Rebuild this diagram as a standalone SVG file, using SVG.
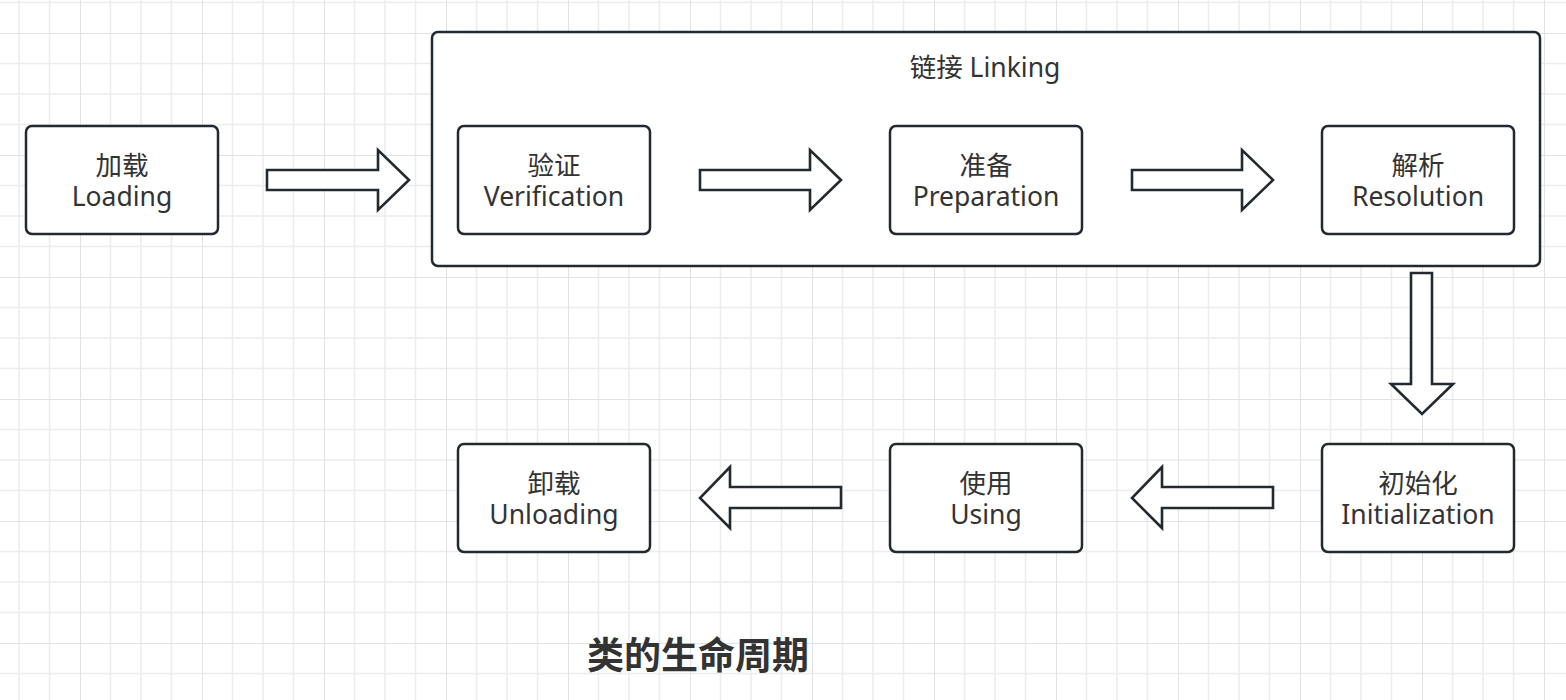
<svg xmlns="http://www.w3.org/2000/svg" width="1566" height="700" viewBox="0 0 1566 700">
<style>
.box{fill:#ffffff;stroke:#222a31;stroke-width:2.5}
.arr{fill:#ffffff;stroke:#222a31;stroke-width:2.6;stroke-linejoin:miter}
.t{font-family:"Noto Sans","Noto Sans CJK SC",sans-serif;font-size:26.5px;fill:#333333;text-anchor:middle}
.title{font-family:"Noto Sans CJK SC","Noto Sans",sans-serif;font-size:37px;font-weight:bold;fill:#333333;text-anchor:middle}
</style>
<defs>
<pattern id="grid" x="80" y="33" width="122" height="122" patternUnits="userSpaceOnUse">
<path d="M30.5 0V122M61 0V122M91.5 0V122M0 30.5H122M0 61H122M0 91.5H122" stroke="#ececec" stroke-width="1.5" fill="none"/>
<path d="M0 0V122M0 0H122" stroke="#e2e2e2" stroke-width="2" fill="none"/>
</pattern>
</defs>
<rect width="1566" height="700" fill="#ffffff"/>
<rect width="1566" height="700" fill="url(#grid)"/>
<g id="linking">
<rect class="box" x="432" y="32" width="1108" height="234" rx="6"/>
<text class="t" x="985" y="77">链接 Linking</text>
</g>
<g id="loading">
<rect class="box" x="26" y="126" width="192" height="108" rx="6"/>
<text class="t" x="122" y="175">加载<tspan x="122" dy="31">Loading</tspan></text>
</g>
<g id="verification">
<rect class="box" x="458" y="126" width="192" height="108" rx="6"/>
<text class="t" x="554" y="175">验证<tspan x="554" dy="31">Verification</tspan></text>
</g>
<g id="preparation">
<rect class="box" x="890" y="126" width="192" height="108" rx="6"/>
<text class="t" x="986" y="175">准备<tspan x="986" dy="31">Preparation</tspan></text>
</g>
<g id="resolution">
<rect class="box" x="1322" y="126" width="192" height="108" rx="6"/>
<text class="t" x="1418" y="175">解析<tspan x="1418" dy="31">Resolution</tspan></text>
</g>
<g id="initialization">
<rect class="box" x="1322" y="444" width="192" height="108" rx="6"/>
<text class="t" x="1418" y="493">初始化<tspan x="1418" dy="31">Initialization</tspan></text>
</g>
<g id="using">
<rect class="box" x="890" y="444" width="192" height="108" rx="6"/>
<text class="t" x="986" y="493">使用<tspan x="986" dy="31">Using</tspan></text>
</g>
<g id="unloading">
<rect class="box" x="458" y="444" width="192" height="108" rx="6"/>
<text class="t" x="554" y="493">卸载<tspan x="554" dy="31">Unloading</tspan></text>
</g>
<g id="connectors">
<path class="arr" d="M267 170H378V150L409 180L378 210V190H267Z"/>
<path class="arr" d="M700 170H810V150L841 180L810 210V190H700Z"/>
<path class="arr" d="M1132 170H1242V150L1273 180L1242 210V190H1132Z"/>
<path class="arr" d="M1411 273H1432V384H1453L1422 414L1391 384H1411Z"/>
<path class="arr" d="M1273 487H1162V467L1132 498L1162 528V508H1273Z"/>
<path class="arr" d="M841 487H730V467L700 498L730 528V508H841Z"/>
</g>
<text class="title" x="698" y="669">类的生命周期</text>
</svg>
